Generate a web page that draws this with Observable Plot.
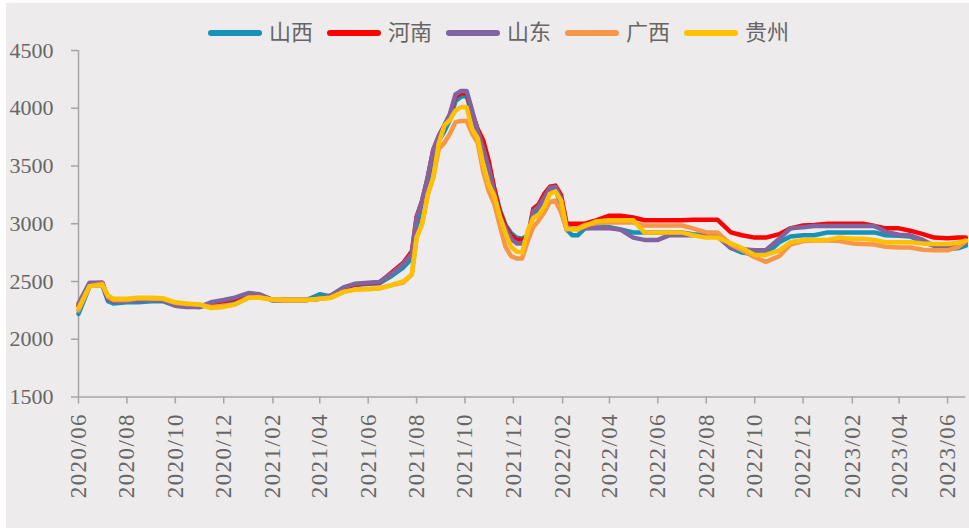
<!DOCTYPE html>
<html>
<head>
<meta charset="utf-8">
<script src="https://cdn.jsdelivr.net/npm/d3@7"></script>
<script src="https://cdn.jsdelivr.net/npm/@observablehq/plot@0.6"></script>
<style>
  html, body { margin: 0; padding: 0; background: #ffffff; }
  #wrap { position: absolute; left: 6px; top: 3px; width: 963px; height: 525px; background: #edebeb; overflow: hidden; }
  #legend { position: absolute; left: 202px; top: 15px; display: flex; gap: 14px; align-items: center;
            font-family: 'Liberation Serif', 'Noto Sans CJK SC', serif; font-size: 22px; color: #666666; line-height: 30px; }
  .item { display: flex; align-items: center; }
  .sw { width: 54px; height: 6px; border-radius: 3px; margin-right: 7px; }
  svg .xlab text { letter-spacing: 1.4px; }
</style>
</head>
<body>
<div id="wrap"><div id="legend"></div></div>
<script>
const series = ["山西", "河南", "山东", "广西", "贵州"];
const colors = ["#1592b6", "#ff0000", "#8064a2", "#f79646", "#ffc000"];
const yTicks = [1500, 2000, 2500, 3000, 3500, 4000, 4500];
const xTicks = ["2020-06-01","2020-08-01","2020-10-01","2020-12-01","2021-02-01","2021-04-01","2021-06-01","2021-08-01","2021-10-01","2021-12-01","2022-02-01","2022-04-01","2022-06-01","2022-08-01","2022-10-01","2022-12-01","2023-02-01","2023-04-01","2023-06-01"];

const dates = ["2020-06-01","2020-06-15","2020-07-01","2020-07-08","2020-07-15","2020-08-01","2020-08-15","2020-09-01","2020-09-15","2020-10-01","2020-10-15","2020-11-01","2020-11-15","2020-12-01","2020-12-15",
"2021-01-01","2021-01-15","2021-02-01","2021-02-15","2021-03-01","2021-03-15","2021-04-01","2021-04-15","2021-05-01","2021-05-15","2021-06-01","2021-06-15","2021-07-01","2021-07-15","2021-07-26",
"2021-08-01","2021-08-08","2021-08-15","2021-08-22","2021-08-29","2021-09-05","2021-09-12","2021-09-19","2021-09-26","2021-10-03","2021-10-10","2021-10-17","2021-10-24","2021-10-31","2021-11-07","2021-11-14","2021-11-21","2021-11-28","2021-12-05","2021-12-12","2021-12-19","2021-12-26",
"2022-01-02","2022-01-09","2022-01-16","2022-01-23","2022-01-30","2022-02-06","2022-02-13","2022-02-20",
"2022-03-01","2022-03-15","2022-04-01","2022-04-15","2022-05-01","2022-05-15","2022-06-01","2022-06-15","2022-07-01","2022-07-15","2022-08-01","2022-08-15","2022-09-01","2022-09-15","2022-10-01","2022-10-15","2022-11-01","2022-11-15","2022-12-01","2022-12-15",
"2023-01-01","2023-01-15","2023-02-01","2023-02-15","2023-03-01","2023-03-15","2023-04-01","2023-04-15","2023-05-01","2023-05-15","2023-06-01","2023-06-15","2023-06-24"];

const shanxi = [2220,2460,2470,2330,2310,2320,2320,2330,2330,2290,2285,2280,2300,2320,2340,
2380,2385,2335,2340,2340,2340,2390,2370,2430,2470,2480,2485,2550,2620,2700,
2980,3150,3350,3600,3720,3800,3900,4060,4100,4110,3940,3780,3660,3510,3300,3120,2990,2920,2880,2870,2900,3080,
3120,3200,3280,3300,3160,2950,2900,2900,
2960,2970,2970,2950,2925,2925,2925,2925,2925,2910,2900,2900,2790,2750,2735,2735,2840,2890,2900,2900,
2925,2925,2925,2925,2925,2900,2895,2890,2840,2810,2780,2790,2810];

const henan = [2290,2480,2490,2350,2330,2340,2340,2345,2340,2300,2290,2285,2310,2330,2350,
2390,2385,2340,2340,2340,2340,2350,2375,2440,2475,2485,2490,2580,2660,2760,
3060,3200,3400,3640,3760,3850,3940,4100,4130,4130,3960,3820,3720,3540,3300,3100,2980,2900,2860,2860,2880,3130,
3170,3260,3320,3330,3250,3000,3000,3000,
3000,3030,3070,3070,3055,3030,3030,3030,3030,3035,3035,3035,2925,2900,2880,2880,2910,2960,2985,2990,
3000,3000,3000,3000,2980,2960,2960,2940,2910,2880,2875,2880,2880];

const shandong = [2310,2490,2490,2350,2330,2330,2340,2340,2340,2290,2280,2280,2320,2340,2360,
2400,2390,2340,2340,2340,2340,2350,2380,2450,2480,2490,2495,2570,2650,2740,
3050,3200,3400,3640,3760,3850,3950,4120,4150,4150,3980,3800,3650,3480,3260,3060,2960,2870,2830,2830,2870,3110,
3150,3230,3310,3320,3220,2970,2960,2960,
2960,2960,2960,2950,2880,2860,2860,2900,2900,2900,2900,2890,2790,2780,2770,2770,2870,2960,2970,2980,
2980,2980,2980,2980,2980,2930,2905,2900,2860,2810,2800,2810,2830];

const guangxi = [2250,2460,2480,2370,2340,2340,2355,2350,2350,2315,2305,2300,2280,2290,2300,
2360,2365,2340,2340,2340,2340,2350,2360,2410,2430,2435,2440,2470,2490,2560,
2880,3000,3250,3400,3650,3700,3780,3880,3890,3890,3780,3700,3450,3280,3170,2980,2800,2720,2700,2700,2850,2970,
3030,3100,3190,3200,3100,2950,2960,2960,
2990,3005,3010,3010,3010,2985,2985,2985,2985,2960,2925,2925,2820,2770,2710,2670,2720,2820,2850,2855,
2855,2850,2830,2825,2820,2800,2795,2795,2775,2770,2770,2800,2850];

const guizhou = [2270,2460,2470,2380,2350,2350,2360,2360,2355,2320,2310,2300,2270,2280,2300,
2360,2360,2345,2340,2340,2340,2350,2360,2410,2430,2435,2440,2470,2500,2560,
2880,3000,3250,3400,3700,3850,3900,3980,4010,4010,3820,3740,3510,3340,3240,3060,2920,2800,2760,2750,2940,3050,
3080,3150,3260,3280,3200,2960,2950,2950,
2980,3020,3030,3030,3030,2925,2925,2925,2925,2900,2880,2880,2830,2790,2730,2730,2770,2840,2860,2860,
2860,2880,2870,2870,2860,2840,2840,2840,2830,2825,2825,2835,2855];

const valuesBySeries = [shanxi, henan, shandong, guangxi, guizhou];
const rows = [];
series.forEach((s, i) => dates.forEach((d, j) => rows.push({series: s, date: new Date(d), value: valuesBySeries[i][j]})));

const xStart = new Date("2020-06-01");
const xEnd = new Date("2023-06-24");
const axisColor = "#a6a6a6";
const textColor = "#666666";

const chart = Plot.plot({
  width: 963,
  height: 525,
  marginTop: 47,
  marginBottom: 131.5,
  marginLeft: 72,
  marginRight: 3.7,
  style: {background: "transparent", fontFamily: "'Liberation Serif','Noto Sans CJK SC',serif", color: textColor},
  x: {type: "utc", domain: [xStart, xEnd]},
  y: {domain: [1500, 4500]},
  color: {domain: series, range: colors},
  marks: [
    Plot.ruleY([1500], {stroke: axisColor, strokeWidth: 1.5}),
    Plot.ruleX([xStart], {y1: 1500, y2: 4500, stroke: axisColor, strokeWidth: 1.5}),
    Plot.axisY({ticks: yTicks, tickSize: 7, tickPadding: 18, stroke: axisColor, strokeWidth: 1.5, fill: textColor, fontSize: 22, tickFormat: d => String(d), label: null}),
    Plot.axisX({ticks: xTicks.map(d => new Date(d)), tickSize: 7, tickPadding: 9, tickRotate: -90, stroke: axisColor, strokeWidth: 1.5, fill: textColor, fontSize: 23, tickFormat: d3.utcFormat("%Y/%m"), label: null, className: "xlab"}),
    Plot.line(rows, {x: "date", y: "value", z: "series", stroke: "series", strokeWidth: 4.5, strokeLinejoin: "round", strokeLinecap: "round"})
  ]
});
document.getElementById("wrap").insertBefore(chart, document.getElementById("legend"));

const legend = document.getElementById("legend");
series.forEach((s, i) => {
  const item = document.createElement("div");
  item.className = "item";
  const sw = document.createElement("div");
  sw.className = "sw";
  sw.style.background = colors[i];
  const t = document.createElement("span");
  t.textContent = s;
  item.appendChild(sw);
  item.appendChild(t);
  legend.appendChild(item);
});
</script>
</body>
</html>
